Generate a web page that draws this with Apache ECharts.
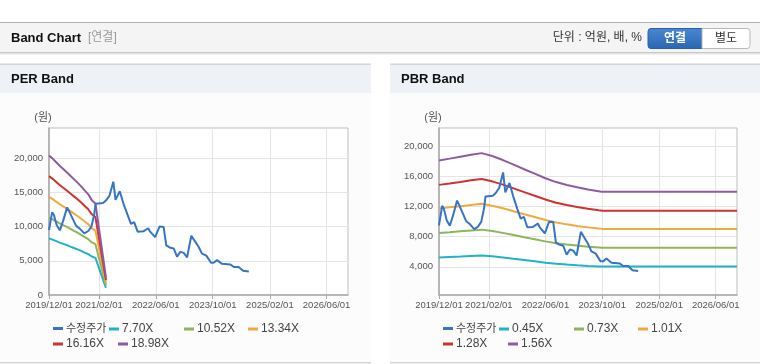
<!DOCTYPE html>
<html>
<head>
<meta charset="utf-8">
<script src="https://cdn.jsdelivr.net/npm/echarts@6/dist/echarts.min.js"></script>
<style>
html,body{margin:0;padding:0;background:#fff;}
#c{width:760px;height:364px;}
</style>
</head>
<body>
<div id="c"></div>
<script>
// ---------- data ----------
const xTickDates = ['2019-12-01','2021-02-01','2022-06-01','2023-10-01','2025-02-01','2026-06-01'];
const xMinDate = '2019-12-01';
const xMaxDate = '2026-12-01';
const perYTicks = [0, 5000, 10000, 15000, 20000];
const pbrYTicks = [4000, 8000, 12000, 16000, 20000];

const priceDates = ['2019-12-01','2019-12-28','2020-01-12','2020-02-05','2020-03-03','2020-04-01','2020-05-04','2020-05-28','2020-07-20','2020-08-20','2020-09-28','2020-11-01','2020-11-28','2020-12-22','2021-01-03','2021-03-07','2021-04-01','2021-05-01','2021-06-03','2021-06-22','2021-07-28','2021-08-28','2021-10-03','2021-11-01','2021-11-28','2021-12-28','2022-02-15','2022-03-28','2022-04-14','2022-05-27','2022-07-03','2022-08-07','2022-08-30','2022-09-27','2022-11-01','2022-11-30','2022-12-28','2023-01-26','2023-02-24','2023-04-01','2023-05-04','2023-06-02','2023-07-01','2023-08-07','2023-09-17','2023-10-09','2023-11-07','2023-12-20','2024-03-01','2024-03-29','2024-05-10','2024-06-17','2024-08-05'];
const priceValues = [9500,12100,11700,10200,9450,10900,12800,12000,10100,9700,9000,9350,10000,11800,13350,13440,13800,14500,16550,13900,15150,13400,11700,10400,10650,9250,9300,9750,9250,8450,10000,9950,7250,6950,6800,5600,6300,6150,5500,8650,7800,7050,6050,5750,4720,4720,5100,4550,4450,4100,4100,3550,3450];

const perBandDates = ['2019-12-01','2020-01-01','2020-02-01','2020-03-01','2020-04-01','2020-05-01','2020-06-01','2020-07-01','2020-08-01','2020-09-01','2020-10-01','2020-11-01','2020-12-01','2021-01-01','2021-04-01'];
const per770  = [8280,8090,7870,7660,7470,7280,7070,6870,6660,6440,6200,5970,5620,5430,1040];
const per1052 = [11310,11050,10750,10470,10200,9940,9660,9380,9100,8790,8470,8150,7680,7420,1420];
const per1334 = [14340,14010,13630,13270,12940,12610,12250,11900,11540,11150,10740,10340,9740,9400,1800];
const per1616 = [17370,16970,16520,16080,15680,15270,14830,14410,13980,13510,13010,12520,11800,11390,2180];
const per1898 = [20400,19930,19400,18890,18410,17940,17420,16930,16420,15870,15280,14710,13860,13380,2560];

const pbrBandDates = ['2019-12-01','2020-03-01','2020-06-01','2020-09-01','2020-12-01','2021-03-01','2021-06-01','2021-09-01','2021-12-01','2022-03-01','2022-06-01','2022-09-01','2022-12-01','2023-03-01','2023-06-01','2023-09-01','2023-10-01','2026-12-01'];
const pbr045 = [5230,5300,5370,5450,5510,5400,5250,5070,4900,4730,4550,4400,4290,4200,4120,4050,4030,4030];
const pbr073 = [8490,8600,8720,8830,8940,8760,8510,8230,7940,7670,7380,7140,6960,6820,6680,6570,6530,6530];
const pbr101 = [11750,11900,12060,12220,12370,12120,11780,11380,10990,10610,10210,9880,9640,9430,9240,9090,9040,9040];
const pbr128 = [14890,15080,15280,15490,15680,15360,14920,14430,13930,13440,12940,12520,12210,11960,11710,11520,11460,11460];
const pbr156 = [18140,18380,18630,18880,19110,18720,18190,17580,16970,16380,15770,15260,14880,14570,14270,14040,13960,13960];

const perNames = ['수정주가','7.70X','10.52X','13.34X','16.16X','18.98X'];
const pbrNames = ['수정주가','0.45X','0.73X','1.01X','1.28X','1.56X'];
const colors = ['#3574c6','#1fb2c8','#8db65a','#f0aa3c','#cf3230','#8e5aa0'];

// ---------- helpers ----------
const ts = d => Date.parse(d);
const pair = (dates, vals) => dates.map((d, i) => [ts(d), vals[i]]);
const pad = n => (n < 10 ? '0' : '') + n;
const fmtDate = v => { const d = new Date(v); return d.getUTCFullYear() + '/' + pad(d.getUTCMonth() + 1) + '/' + pad(d.getUTCDate()); };
const fmtNum = v => Number(v).toLocaleString('en-US');
const FONT = '"Liberation Sans", Arial, "Noto Sans CJK KR", sans-serif';

function xAxisFor(gi) {
  const ticks = xTickDates.map(ts);
  return {
    type: 'value', gridIndex: gi, min: ts(xMinDate), max: ts(xMaxDate),
    axisLine: { show: true, lineStyle: { color: '#a9a9a9', width: 1.5 } },
    axisTick: { show: true, length: 4, customValues: ticks, lineStyle: { color: '#a9a9a9' } },
    axisLabel: { customValues: ticks, formatter: fmtDate, fontSize: 9.5, color: '#555', margin: 6, fontFamily: FONT },
    splitLine: { show: true, lineStyle: { color: '#e4e4e4', width: 1 } }
  };
}
function yAxisFor(gi, min, max, ticks) {
  return {
    type: 'value', gridIndex: gi, min: min, max: max,
    axisLine: { show: true, lineStyle: { color: '#a9a9a9', width: 1.5 } },
    axisTick: { show: false, customValues: ticks },
    axisLabel: { customValues: ticks, formatter: fmtNum, fontSize: 9.5, color: '#555', margin: 6, fontFamily: FONT },
    splitLine: { show: true, lineStyle: { color: '#e4e4e4', width: 1 } }
  };
}
function line(name, gi, data, color) {
  return {
    type: 'line', name: name, xAxisIndex: gi, yAxisIndex: gi, data: data,
    showSymbol: false, symbol: 'none', lineStyle: { color: color, width: 2 }, itemStyle: { color: color },
    z: name === '수정주가' ? 3 : 2
  };
}

const series = [
  line(perNames[0], 0, pair(priceDates, priceValues), colors[0]),
  line(perNames[1], 0, pair(perBandDates, per770), colors[1]),
  line(perNames[2], 0, pair(perBandDates, per1052), colors[2]),
  line(perNames[3], 0, pair(perBandDates, per1334), colors[3]),
  line(perNames[4], 0, pair(perBandDates, per1616), colors[4]),
  line(perNames[5], 0, pair(perBandDates, per1898), colors[5]),
  line(pbrNames[0], 1, pair(priceDates, priceValues), colors[0]),
  line(pbrNames[1], 1, pair(pbrBandDates, pbr045), colors[1]),
  line(pbrNames[2], 1, pair(pbrBandDates, pbr073), colors[2]),
  line(pbrNames[3], 1, pair(pbrBandDates, pbr101), colors[3]),
  line(pbrNames[4], 1, pair(pbrBandDates, pbr128), colors[4]),
  line(pbrNames[5], 1, pair(pbrBandDates, pbr156), colors[5])
];

// legend placement (one legend per item)
const legendSlots = [[4, 323], [60, 323], [135, 323], [199, 323], [4, 338], [69, 338]];
const legends = [];
[[perNames, 49], [pbrNames, 439]].forEach(([names, base]) => {
  names.forEach((n, i) => {
    legends.push({
      data: [n], left: base + legendSlots[i][0], top: legendSlots[i][1], padding: 0,
      icon: 'rect', itemWidth: 10, itemHeight: 3, selectedMode: false,
      textStyle: { fontSize: i === 0 ? 11 : 12, color: '#444', fontFamily: FONT, padding: [0, 0, 0, -2] }
    });
  });
});

const graphic = [
  // top header
  { type: 'rect', z: -10, shape: { x: 0, y: 22, width: 760, height: 31 }, style: { fill: '#f4f4f4' } },
  { type: 'rect', z: -9, shape: { x: 0, y: 22, width: 760, height: 1 }, style: { fill: '#b4b4b4' } },
  { type: 'rect', z: -9, shape: { x: 0, y: 52, width: 760, height: 1 }, style: { fill: '#c9c9c9' } },
  { type: 'rect', z: -9, shape: { x: 0, y: 53, width: 760, height: 1 }, style: { fill: '#e4e4e4' } },
  { type: 'rect', z: -9, shape: { x: 0, y: 54, width: 760, height: 1 }, style: { fill: '#f1f1f1' } },
  { type: 'text', z: 10, x: 11, y: 38, style: { text: 'Band Chart', font: 'bold 13px ' + FONT, fill: '#111', verticalAlign: 'middle' } },
  { type: 'text', z: 10, x: 88, y: 38, style: { text: '[연결]', font: '12px ' + FONT, fill: '#999', verticalAlign: 'middle' } },
  { type: 'text', z: 10, x: 642, y: 38, style: { text: '단위 : 억원, 배, %', font: '12px ' + FONT, fill: '#333', align: 'right', verticalAlign: 'middle' } },
  { type: 'rect', z: 5, shape: { x: 648, y: 28.5, width: 54, height: 20, r: [3, 0, 0, 3] },
    style: { fill: new echarts.graphic.LinearGradient(0, 0, 0, 1, [{ offset: 0, color: '#4a88d2' }, { offset: 1, color: '#2b65b2' }]), stroke: '#2a5fa6', lineWidth: 1 } },
  { type: 'text', z: 10, x: 675, y: 38.5, style: { text: '연결', font: 'bold 12px ' + FONT, fill: '#fff', align: 'center', verticalAlign: 'middle' } },
  { type: 'rect', z: 5, shape: { x: 702, y: 28.5, width: 48, height: 20, r: [0, 3, 3, 0] }, style: { fill: '#fff', stroke: '#b9b9b9', lineWidth: 1 } },
  { type: 'text', z: 10, x: 726, y: 38.5, style: { text: '별도', font: '12px ' + FONT, fill: '#333', align: 'center', verticalAlign: 'middle' } },
  // panels
  { type: 'rect', z: -10, shape: { x: 0, y: 64, width: 371, height: 299 }, style: { fill: '#fcfcfc' } },
  { type: 'rect', z: -10, shape: { x: 390, y: 64, width: 370, height: 299 }, style: { fill: '#fcfcfc' } },
  { type: 'rect', z: -9, shape: { x: 0, y: 64, width: 371, height: 29 }, style: { fill: '#eef2f7' } },
  { type: 'rect', z: -9, shape: { x: 390, y: 64, width: 370, height: 29 }, style: { fill: '#eef2f7' } },
  { type: 'rect', z: -8, shape: { x: 0, y: 63.5, width: 371, height: 1.5 }, style: { fill: '#d6d6d6' } },
  { type: 'rect', z: -8, shape: { x: 390, y: 63.5, width: 370, height: 1.5 }, style: { fill: '#d6d6d6' } },
  { type: 'rect', z: -8, shape: { x: 0, y: 362, width: 371, height: 1.5 }, style: { fill: '#d6d6d6' } },
  { type: 'rect', z: -8, shape: { x: 390, y: 362, width: 370, height: 1.5 }, style: { fill: '#d6d6d6' } },
  { type: 'text', z: 10, x: 11, y: 79.5, style: { text: 'PER Band', font: 'bold 13px ' + FONT, fill: '#111', verticalAlign: 'middle' } },
  { type: 'text', z: 10, x: 401, y: 79.5, style: { text: 'PBR Band', font: 'bold 13px ' + FONT, fill: '#111', verticalAlign: 'middle' } },
  { type: 'text', z: 10, x: 43, y: 117.5, style: { text: '(원)', font: '11px ' + FONT, fill: '#555', align: 'center', verticalAlign: 'middle' } },
  { type: 'text', z: 10, x: 433, y: 117.5, style: { text: '(원)', font: '11px ' + FONT, fill: '#555', align: 'center', verticalAlign: 'middle' } }
];

const option = {
  animation: false,
  backgroundColor: '#ffffff',
  textStyle: { fontFamily: FONT },
  graphic: { elements: graphic },
  grid: [
    { left: 49, top: 128, width: 299, height: 167, show: true, borderColor: '#bdbdbd', borderWidth: 1, backgroundColor: '#ffffff', containLabel: false },
    { left: 439, top: 128, width: 298, height: 167, show: true, borderColor: '#bdbdbd', borderWidth: 1, backgroundColor: '#ffffff', containLabel: false }
  ],
  xAxis: [xAxisFor(0), xAxisFor(1)],
  yAxis: [yAxisFor(0, 0, 24400, perYTicks), yAxisFor(1, 250, 22450, pbrYTicks)],
  legend: legends,
  series: series
};

const chart = echarts.init(document.getElementById('c'), null, { renderer: 'canvas' });
chart.setOption(option);
</script>
</body>
</html>
